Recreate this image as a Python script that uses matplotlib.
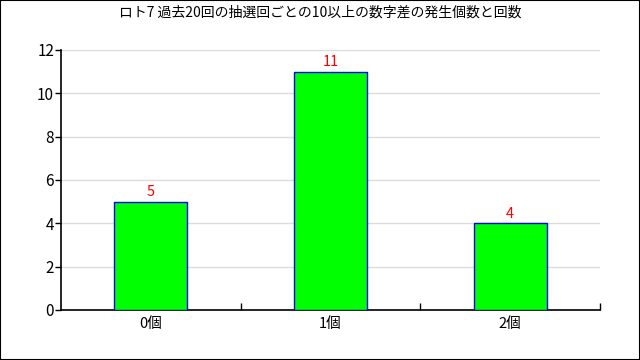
import matplotlib
matplotlib.use("Agg")
import matplotlib.pyplot as plt
from matplotlib.patches import Rectangle

plt.rcParams['font.family'] = ['Noto Sans CJK JP', 'DejaVu Sans']

title = "ロト7 過去20回の抽選回ごとの10以上の数字差の発生個数と回数"
categories = ["0個", "1個", "2個"]
counts = [5, 11, 4]
y_ticks = [0, 2, 4, 6, 8, 10, 12]

fig = plt.figure(figsize=(6.4, 3.6), dpi=100)
ax = fig.add_axes([61 / 640, 50 / 360, 539 / 640, 260 / 360])

x = list(range(len(categories)))
ax.bar(x, counts, width=0.405, color="#00ff00", edgecolor="#0000ff",
       linewidth=1, zorder=3)
for xi, v in zip(x, counts):
    ax.text(xi, v + 0.1, str(v), color="#ff0000", ha="center", va="bottom",
            fontsize=10.5, zorder=4)

ax.set_xlim(-0.5, len(categories) - 0.5)
ax.set_ylim(0, 12)
ax.set_yticks(y_ticks)
ax.set_xticks(x)
ax.set_xticklabels(categories, fontsize=10.5)
ax.set_xticks([i + 0.5 for i in x], minor=True)
ax.tick_params(axis="x", which="major", length=0, pad=5)
ax.tick_params(axis="x", which="minor", direction="in", length=5, width=1)
ax.tick_params(axis="y", direction="out", length=4, width=1, labelsize=11, pad=1)

ax.grid(axis="y", color="#dcdcdc", linewidth=1, zorder=0)
ax.spines["top"].set_visible(False)
ax.spines["right"].set_visible(False)
for s in ("left", "bottom"):
    ax.spines[s].set_linewidth(1.2)

fig.text(0.5, 1 - 13 / 360, title, ha="center", va="center", fontsize=10)
fig.patches.append(Rectangle((0, 0), 1, 1, transform=fig.transFigure,
                             fill=False, edgecolor="black", linewidth=1.5))

fig.savefig("out.png", dpi=100)
